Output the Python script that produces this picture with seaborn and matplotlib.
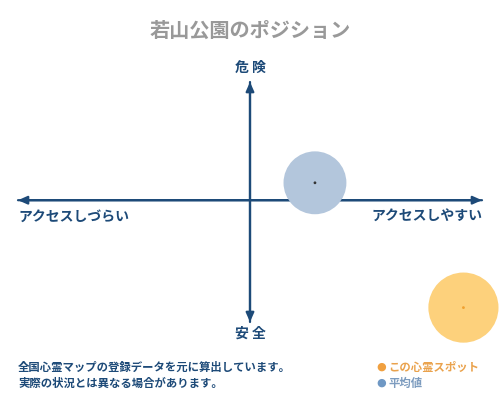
import numpy as np
import pandas as pd
import matplotlib
matplotlib.use("Agg")
import matplotlib.pyplot as plt
import seaborn as sns

# data (position on -1..1 axes)
names = ["平均値", "この心霊スポット"]
access = [0.28, 0.92]      # x: アクセスしづらい(-1) .. アクセスしやすい(+1)
danger = [0.16, -0.88]     # y: 安全(-1) .. 危険(+1)
title = "若山公園のポジション"
x_labels = ["アクセスしづらい", "アクセスしやすい"]
y_labels = ["安 全", "危 険"]
notes = ["全国心霊マップの登録データを元に算出しています。",
         "実際の状況とは異なる場合があります。"]

navy = "#1d4a78"
fill_cols = ["#b3c6dc", "#fdd17c"]
dot_cols = ["#333333", "#f0a030"]
sizes = [2050, 2550]

sns.set_theme(style="white")
plt.rcParams["font.family"] = ["Noto Sans CJK JP", "DejaVu Sans"]

fig = plt.figure(figsize=(5, 4), dpi=100)
ax = fig.add_axes([18 / 500, (400 - 322) / 400, 464 / 500, 240 / 400])
ax.set_xlim(-1, 1)
ax.set_ylim(-1, 1)
ax.axis("off")

df = pd.DataFrame({"name": names, "x": access, "y": danger})

# big translucent circles
sns.scatterplot(data=df, x="x", y="y", hue="name", palette=fill_cols,
                s=sizes[0], linewidth=0, legend=False, ax=ax, clip_on=False, zorder=3)
ax.collections[-1].set_sizes(sizes)
# centre dots
sns.scatterplot(data=df, x="x", y="y", hue="name", palette=dot_cols,
                s=4, linewidth=0, legend=False, ax=ax, clip_on=False, zorder=4)

# axes arrows
arrow = dict(arrowstyle="-|>,head_length=0.45,head_width=0.2", color=navy, lw=1.6,
             shrinkA=0, shrinkB=0)
ax.annotate("", xy=(1, 0.015), xytext=(-1, 0.015), arrowprops=arrow, zorder=2)
ax.annotate("", xy=(-1, 0.015), xytext=(1, 0.015), arrowprops=arrow, zorder=2)
ax.annotate("", xy=(0, 1), xytext=(0, -1), arrowprops=arrow, zorder=2)
ax.annotate("", xy=(0, -1), xytext=(0, 1), arrowprops=arrow, zorder=2)

# axis labels
fig.text(18 / 500, 1 - 217 / 400, x_labels[0], ha="left", va="center",
         fontsize=10, fontweight="bold", color=navy)
fig.text(482 / 500, 1 - 217 / 400, x_labels[1], ha="right", va="center",
         fontsize=10, fontweight="bold", color=navy)
fig.text(0.5, 1 - 68 / 400, y_labels[1], ha="center", va="center",
         fontsize=10, fontweight="bold", color=navy)
fig.text(0.5, 1 - 334 / 400, y_labels[0], ha="center", va="center",
         fontsize=10, fontweight="bold", color=navy)

# title
fig.text(0.5, 1 - 30 / 400, title, ha="center", va="center",
         fontsize=14.5, fontweight="bold", color="#999999")

# footnote
fig.text(18 / 500, 1 - 367 / 400, notes[0], ha="left", va="center",
         fontsize=8.2, fontweight="bold", color=navy)
fig.text(18 / 500, 1 - 383 / 400, notes[1], ha="left", va="center",
         fontsize=8.2, fontweight="bold", color=navy)

# legend
leg_txt_cols = ["#7d9cbf", "#eaa24c"]
leg_dot_cols = ["#6f98c4", "#f0a040"]
for i, (lab, yy) in enumerate(zip(names, [383, 367])):
    fig.text(381 / 500, 1 - yy / 400, "●", ha="center", va="center",
             fontsize=8, color=leg_dot_cols[i], family=["DejaVu Sans"])
    fig.text(388 / 500, 1 - yy / 400, lab, ha="left", va="center",
             fontsize=8.2, fontweight="bold", color=leg_txt_cols[i])

fig.savefig("out.png", dpi=100)
